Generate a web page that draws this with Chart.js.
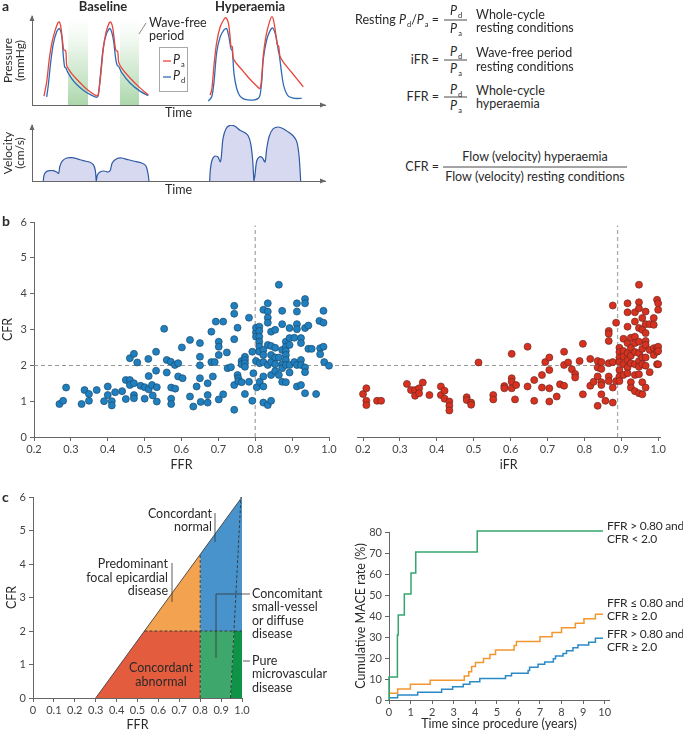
<!DOCTYPE html>
<html><head><meta charset="utf-8">
<script src="https://cdn.jsdelivr.net/npm/chart.js@4.4.1/dist/chart.umd.min.js"></script>
<style>
body{margin:0;background:#fff;}
#root{position:relative;width:683px;height:732px;overflow:hidden;font-family:Lato,"Open Sans",sans-serif;color:#2a2a2a;}
canvas{position:absolute;}
.t{position:absolute;white-space:nowrap;font-size:12.5px;line-height:14px;color:#2a2a2a;}
.s{font-size:7.5px;position:relative;top:3px;margin-left:1px;font-style:normal;}
svg{position:absolute;left:0;top:0;}
</style></head>
<body><div id="root"></div>
<script>
// ---------------- DATA ----------------
// Panel a: schematic traces (time units, pressure / velocity units)
const paBaseT = [12,14.7,17.3,20,23,26,27.3,28.7,30.7,31.7,33.3,34,34.7,36.3,39.7,44.7,51.3,58,64.7,66.3,68.7,71.3,74,77.3,78.7,80.7,83,84,85.7,86.7,89.7,98,108,116.3];
const paBaseP = [9,23.3,46.7,63.3,75,83.3,84,80,63.3,55.7,55.3,53.3,40,36.7,31.7,26,19.3,13.3,9.3,10.7,30,56.7,73.3,83.3,84,78.3,60,55,54.3,43.3,37.3,27.3,17.3,10];
const pdBaseT = [14.7,16.3,18.7,21.3,24.7,27.3,29.7,31.3,32.7,34,35.3,39.7,44.7,51.3,58,64.7,66.3,68.7,71.3,74.7,78,81.3,83.7,85.3,86.7,89.7,98,108,116.3];
const pdBaseP = [8.3,20,43.3,61.7,74,77.3,70,50,38.3,37.3,34,26.7,20.7,15,10.7,7.7,10,33.3,58.3,72.7,77.3,66.7,46.7,40,39,32.7,22.3,14,9.3];
const paHypT = [178,179.7,182.3,184.7,188,192,194,196.3,198,199,200.3,201.3,204.7,211.3,218,224.7,228,229.7,231.3,234,237.3,240,242,244,245.3,246.7,248,251.3,258,264.7,271.3];
const paHypP = [10,15,43.3,63.3,78.3,86.7,88.3,83.3,70,59.3,59,47.3,41.7,34,26,19.3,16.7,28.3,50,70,83.3,89.3,83.3,70,60.7,59.3,49.3,43.3,35,26.7,18.3];
const pdHypT = [176.3,179.7,182,184.7,188,192,194.7,197.3,199,200.3,202,204.7,208,213,221.3,226.3,228,229.7,231.3,234.7,238,240.7,244,246.3,247.3,249.7,252,256.3,263,269.7];
const pdHypP = [4,8.3,23.3,53.3,68.3,76,77.3,66.7,56.7,55,31.7,16.7,9,5.7,5,6.7,10,23.3,46.7,66,75,78,69.3,55,50.7,31.7,18.3,9,6.7,6.7];
const waveFree = [[36,56],[88,107]];
const velBaseT = [11.3,12,14,17.3,21.3,24.7,26.7,27.7,30,34.7,39.7,44.7,51.3,58,61.3,63.3,64.3,65.3,68,72,76,78.3,80.3,84.7,89.7,94.7,101.3,109.7,114,116,117];
const velBaseV = [0,5.7,9,10.3,10.3,9,7.7,14,19.7,23,23.3,22.3,20.3,18.7,16.3,10.7,0,5.7,9,10,9,10.7,18.3,22.3,23,21.7,20,18,15,7.3,0];
const velHypT = [177.7,178.3,180,182.7,186,188.3,189.3,191,194,198,203,208,213,216.3,218.7,220.7,222,223,224.7,227.3,230.3,233,234.7,237.3,241.3,246.3,251.3,256.3,261.3,264.7,267,268.7];
const velHypV = [0,10.7,20.7,24.7,24,19,24,42.3,52.3,55.7,54.7,50.7,48.3,45,37.3,20.7,0,6.3,20,24,23.3,19,32.3,45,52.3,54,52.3,49,45,39.7,25.7,0];

// Panel b: CFR versus FFR and iFR
const ffrCFR = [[0.269,0.92],[0.279,1.01],[0.287,1.38],[0.329,0.92],[0.337,1.31],[0.349,1.20],[0.349,1.01],[0.370,1.31],[0.390,1.00],[0.400,1.41],[0.400,1.17],[0.411,1.00],[0.411,0.88],[0.420,1.25],[0.439,1.28],[0.449,1.59],[0.449,1.06],[0.460,1.59],[0.460,2.20],[0.460,1.45],[0.471,2.32],[0.471,1.50],[0.471,1.17],[0.471,1.08],[0.480,2.08],[0.489,1.43],[0.500,1.07],[0.500,1.39],[0.510,2.18],[0.511,1.70],[0.511,1.33],[0.520,1.45],[0.522,1.16],[0.531,2.38],[0.531,1.85],[0.533,1.39],[0.533,0.99],[0.553,3.02],[0.560,2.15],[0.560,1.80],[0.571,2.10],[0.572,1.38],[0.572,1.07],[0.572,0.92],[0.582,2.01],[0.583,1.35],[0.591,2.06],[0.591,1.69],[0.601,2.50],[0.603,1.64],[0.623,2.71],[0.623,1.13],[0.632,0.85],[0.641,1.41],[0.650,2.62],[0.650,2.24],[0.650,2.00],[0.650,1.64],[0.652,0.98],
[0.671,1.50],[0.671,1.17],[0.671,0.96],[0.681,2.94],[0.681,2.09],[0.685,1.69],[0.690,2.09],[0.693,3.22],[0.701,2.66],[0.701,2.52],[0.701,2.29],[0.701,1.05],[0.713,3.22],[0.713,1.19],[0.723,2.36],[0.725,1.92],[0.734,1.95],[0.743,3.66],[0.743,3.44],[0.743,2.73],[0.743,1.45],[0.743,0.76],[0.752,3.05],[0.752,1.73],[0.754,1.64],[0.754,1.56],[0.763,2.12],[0.763,2.03],[0.763,1.53],[0.772,2.24],[0.772,2.15],[0.772,2.06],[0.772,1.96],[0.772,1.20],[0.783,3.33],[0.783,1.54],[0.792,2.38],[0.792,1.01],[0.795,1.78],[0.802,2.92],[0.802,3.05],[0.802,2.80],[0.802,2.12],[0.804,1.39],[0.811,3.08],[0.811,2.96],[0.811,2.80],[0.811,2.66],[0.811,2.52],[0.811,2.38],[0.812,2.06],[0.812,1.54],[0.822,3.55],[0.822,2.43],[0.822,2.29],[0.822,2.09],[0.822,1.69],[0.822,1.41],[0.822,0.96],[0.834,3.73],[0.834,3.50],[0.834,3.33],[0.834,3.19],[0.834,2.57],[0.834,2.01],[0.834,0.89],[0.843,2.94],[0.843,2.54],[0.843,2.29],[0.843,2.09],[0.843,1.73],[0.843,1.01],[0.854,2.99],[0.854,2.49],[0.854,2.22],[0.854,2.03],[0.854,1.84],[0.864,4.25],[0.864,2.22],[0.864,1.73],[0.873,3.52],[0.873,3.15],[0.873,2.43],[0.873,2.03],[0.873,1.92],[0.873,1.54],[0.883,2.66],[0.883,2.52],[0.883,2.40],[0.883,2.29],[0.883,2.15],[0.883,2.01],[0.883,1.53],[0.893,3.04],[0.893,2.76],[0.893,2.57],[0.893,2.01],[0.893,1.80],[0.906,2.77],[0.906,2.09],[0.913,3.73],[0.913,3.50],[0.913,3.15],[0.913,3.01],[0.913,2.01],[0.913,1.41],[0.924,2.76],[0.924,2.62],[0.924,2.15],[0.924,2.01],[0.924,1.45],[0.935,3.85],[0.935,3.73],[0.935,3.04],[0.935,1.94],[0.935,1.81],[0.935,1.22],[0.944,3.11],[0.944,2.46],[0.953,2.46],[0.965,1.20],[0.974,3.24],[0.976,2.48],[0.976,2.31],[0.985,3.52],[0.985,3.19],[0.985,2.52],[0.987,2.09],[1.0,1.99]];
const ifrCFR = [[0.200,1.20],[0.209,1.36],[0.209,1.01],[0.209,0.89],[0.238,1.01],[0.249,1.01],[0.319,1.48],[0.330,1.31],[0.341,1.31],[0.341,1.15],[0.352,1.36],[0.352,1.22],[0.362,1.52],[0.380,1.17],[0.411,1.41],[0.411,1.17],[0.421,1.29],[0.421,1.07],[0.434,0.99],[0.434,0.87],[0.434,0.74],[0.481,1.11],[0.481,1.03],[0.493,0.96],[0.493,0.90],[0.513,2.08],[0.553,1.17],[0.553,1.05],[0.583,1.42],[0.583,1.36],[0.603,2.32],[0.603,1.64],[0.603,1.54],[0.603,1.36],[0.612,1.05],[0.615,1.45],
[0.646,2.52],[0.646,1.41],[0.664,1.59],[0.664,1.01],[0.685,1.73],[0.685,1.38],[0.694,2.09],[0.705,2.22],[0.705,1.87],[0.705,1.36],[0.705,0.99],[0.725,1.13],[0.734,1.47],[0.745,1.43],[0.745,2.38],[0.745,2.01],[0.756,2.08],[0.766,1.89],[0.775,1.76],[0.775,1.66],[0.787,2.12],[0.796,2.60],[0.796,1.19],[0.816,2.18],[0.816,1.43],[0.825,1.54],[0.836,2.12],[0.836,1.94],[0.836,1.69],[0.836,0.87],[0.846,2.09],[0.846,1.90],[0.846,1.53],[0.846,1.45],[0.846,1.19],[0.857,1.01],[0.866,2.96],[0.866,2.88],[0.866,2.68],[0.866,2.06],[0.866,1.69],[0.866,1.56],[0.877,3.67],[0.877,2.09],[0.877,1.38],[0.877,0.96],[0.886,3.19],[0.886,1.56],[0.895,2.49],[0.895,2.37],[0.895,2.22],[0.895,2.09],[0.895,1.87],[0.895,1.69],[0.895,1.56],[0.906,2.74],[0.906,2.40],[0.906,2.24],[0.906,2.03],[0.906,1.73],[0.917,3.73],[0.917,3.48],[0.917,3.08],[0.917,2.62],[0.917,2.34],[0.917,2.15],[0.917,1.94],[0.917,1.78],[0.926,2.77],[0.926,2.49],[0.926,2.27],[0.926,2.06],[0.926,1.53],[0.926,1.38],[0.937,3.48],[0.937,3.22],[0.937,2.80],[0.937,2.62],[0.937,2.37],[0.937,2.03],[0.937,1.73],[0.937,1.28],[0.948,4.25],[0.948,3.76],[0.948,3.59],[0.948,3.04],[0.948,2.66],[0.948,2.34],[0.948,2.12],[0.948,1.96],[0.948,1.75],[0.948,1.22],[0.957,3.32],[0.957,2.99],[0.957,2.46],[0.957,2.22],[0.957,2.03],[0.957,1.53],[0.957,1.19],[0.966,3.50],[0.966,3.15],[0.966,2.90],[0.966,2.68],[0.966,2.57],[0.966,2.22],[0.966,1.99],[0.966,1.38],[0.977,3.15],[0.977,2.43],[0.977,1.81],[0.988,3.32],[0.988,3.13],[0.988,2.48],[0.988,2.29],[0.997,3.83],[0.997,2.49],[0.997,2.38],[0.997,2.03],[1.0,3.73],[1.0,3.55],[1.0,2.52],[1.0,2.40],[1.0,2.03]];
const ffrCut = 0.80, ifrCut = 0.89, cfrCut = 2.0, refTop = 5.9;
const bTicksX = [0.2,0.3,0.4,0.5,0.6,0.7,0.8,0.9,1.0];
const bTicksY = [0,1,2,3,4,5,6];

// Panel c left: classification triangle (FFR, CFR)
const triLine = [[0.3,0],[1.0,6]];
const regRed = [[0.3,0],[0.533,2],[0.8,2],[0.8,0]];
const regOrange = [[0.533,2],[0.8,4.29],[0.8,2]];
const regBlue = [[0.8,2],[0.8,4.29],[1.0,6],[1.0,2]];
const regGreen = [[0.8,0],[0.8,2],[0.962,2],[0.945,0]];
const regDarkGreen = [[0.945,0],[0.962,2],[1.0,2],[1.0,0]];
const cDashV = [[0.8,0],[0.8,4.29]];
const cDashH = [[0.533,2],[1.0,2]];
const cDashS = [[0.945,0],[0.995,6]];
const cTicksX = [0,0.1,0.2,0.3,0.4,0.5,0.6,0.7,0.8,0.9,1.0];
const cTicksY = [0,1,2,3,4,5,6];

// Panel c right: cumulative MACE (%) vs years
const kmLowCfrT = [0,0,0.39,0.43,0.71,1.02,1.24,4.09,9.92];
const kmLowCfrV = [0,11,31,40.5,50.5,60.5,70.5,80.5,80.5];
const kmLowFfrT = [0,0.40,0.99,1.91,3.49,3.70,3.83,4.01,4.38,4.68,4.94,5.80,5.91,7.00,7.56,8.00,8.64,9.04,9.57,9.92];
const kmLowFfrV = [3.2,5.2,7.5,9.4,11.4,13.5,15.9,17.8,19.8,21.7,23.8,25.9,27.9,30.1,32.2,34.4,36.5,38.7,40.8,40.8];
const kmNormT = [0,0.40,1.33,2.44,2.95,3.44,3.75,4.21,5.40,5.68,6.45,6.52,6.91,7.22,7.62,7.72,8.07,8.23,8.53,8.76,9.26,9.57,9.92];
const kmNormV = [1.1,2.4,3.7,5.1,6.3,7.5,8.7,10.2,11.6,12.7,14.1,15.6,17.0,18.1,19.6,21.0,22.2,23.5,24.9,26.2,27.5,29.4,29.4];
const kmTicksX = [0,1,2,3,4,5,6,7,8,9,10];
const kmTicksY = [0,10,20,30,40,50,60,70,80];

// ---------------- SETUP ----------------
const FONT = 'Lato, "Open Sans", sans-serif';
Chart.defaults.font.family = FONT;
Chart.defaults.color = '#444';
Chart.defaults.animation = false;
Chart.defaults.responsive = false;
Chart.defaults.devicePixelRatio = 1;
Chart.defaults.plugins.legend.display = false;
Chart.defaults.plugins.tooltip.enabled = false;

const root = document.getElementById('root');
function mkCanvas(l,t,w,h){const c=document.createElement('canvas');c.width=w;c.height=h;c.style.left=l+'px';c.style.top=t+'px';c.style.width=w+'px';c.style.height=h+'px';root.appendChild(c);return c;}
function txt(x,y,html,o={}){const d=document.createElement('div');d.className='t';d.innerHTML=html;const lh=o.lh||14;d.style.lineHeight=lh+'px';d.style.left=x+'px';d.style.top=(y-lh/2)+'px';if(o.size)d.style.fontSize=o.size+'px';if(o.ls!=null)d.style.letterSpacing=o.ls+'px';if(o.bold)d.style.fontWeight='bold';if(o.color)d.style.color=o.color;if(o.align==='right')d.style.transform='translateX(-100%)';if(o.align==='center')d.style.transform='translateX(-50%)';root.appendChild(d);return d;}
const pts = (xs, ys) => xs.map((x,i)=>({x, y: ys[i]}));
const pairs = a => a.map(p=>({x:p[0], y:p[1]}));
const setTicks = arr => s => { s.ticks = arr.map(v=>({value:v})); };
const axisCol = '#666';
function tickAxis(o){
  return Object.assign({type:'linear', min:o.min, max:o.max,
    afterBuildTicks:setTicks(o.ticks),
    afterFit: o.fit,
    ticks:{callback:o.fmt||(v=>v), font:{size:11}, color:'#444', padding:o.pad==null?2:o.pad, maxRotation:0, autoSkip:false},
    grid:{display:true, drawOnChartArea:false, drawTicks:true, tickLength:4, color:axisCol, lineWidth:1},
    border:{display:true, color:axisCol, width:1},
    title:{display:!!o.title, text:o.title, font:{size:12.5, lineHeight:1.2}, color:'#2a2a2a', padding:o.tpad||0}
  }, o.extra||{});
}
// arrowheads at axis ends for schematic panels
const arrows = {id:'arrows', afterDraw(chart){const {ctx, chartArea:a}=chart;ctx.save();ctx.fillStyle='#666';
  ctx.beginPath();ctx.moveTo(a.right+1,a.bottom);ctx.lineTo(a.right-5,a.bottom-2.5);ctx.lineTo(a.right-5,a.bottom+2.5);ctx.closePath();ctx.fill();
  ctx.beginPath();ctx.moveTo(a.left,a.top-1);ctx.lineTo(a.left-2.5,a.top+5);ctx.lineTo(a.left+2.5,a.top+5);ctx.closePath();ctx.fill();ctx.restore();}};
function schemAxes(xmax, ymax, ytitle, xh){
  return {
    x:{type:'linear',min:0,max:xmax,afterFit:s=>{s.height=xh;},ticks:{display:false},grid:{display:false},border:{display:true,color:'#666'},title:{display:true,text:'Time',font:{size:12.5,lineHeight:1.2},color:'#2a2a2a',padding:0}},
    y:{type:'linear',min:0,max:ymax,afterFit:s=>{s.width=32;},ticks:{display:false},grid:{display:false},border:{display:true,color:'#666'},title:{display:true,text:ytitle,font:{size:12,lineHeight:1.0},color:'#2a2a2a',padding:{top:2,bottom:0}}}
  };
}

// ---------------- PANEL a: pressure ----------------
{
  const c = mkCanvas(0,8,335,112);
  const bandGrad = (ctx)=>{const ch=ctx.chart;const a=ch.chartArea;if(!a)return 'rgba(120,190,120,0.4)';const g=ch.ctx.createLinearGradient(0,a.bottom,0,a.top);g.addColorStop(0,'rgba(120,190,120,0.62)');g.addColorStop(0.5,'rgba(160,210,160,0.38)');g.addColorStop(1,'rgba(210,235,210,0.0)');return g;};
  const ds = [];
  waveFree.forEach(b=>ds.push({data:[{x:b[0],y:90},{x:b[1],y:90}],fill:'origin',backgroundColor:bandGrad,borderWidth:0,pointRadius:0,order:5}));
  const line=(t,p,col)=>({data:pts(t,p),borderColor:col,borderWidth:1.3,pointRadius:0,tension:0.3,fill:false,order:1});
  ds.push(line(paBaseT,paBaseP,'#e8463c'),line(paHypT,paHypP,'#e8463c'),line(pdBaseT,pdBaseP,'#2f6cb3'),line(pdHypT,pdHypP,'#2f6cb3'));
  new Chart(c,{type:'line',data:{datasets:ds},options:{layout:{padding:{top:8,right:10,left:0,bottom:0}},scales:schemAxes(293,90,['Pressure','(mmHg)'],15)},plugins:[arrows]});
}
// ---------------- PANEL a: velocity ----------------
{
  const c = mkCanvas(0,118,335,79);
  const area=(t,v)=>({data:pts(t,v),borderColor:'#2f5aa3',borderWidth:1.2,backgroundColor:'#d6d9ef',fill:'origin',pointRadius:0,tension:0.3});
  new Chart(c,{type:'line',data:{datasets:[area(velBaseT,velBaseV),area(velHypT,velHypV)]},options:{layout:{padding:{top:7,right:10,left:0,bottom:0}},scales:schemAxes(293,56,['Velocity','(cm/s)'],16)},plugins:[arrows]});
}

// ---------------- PANEL b ----------------
const hLine = (fromFn, toFn) => ({id:'hline', beforeDatasetsDraw(chart){const {ctx,scales:{y}}=chart;const yy=Math.round(y.getPixelForValue(cfrCut))+0.5;ctx.save();ctx.strokeStyle='#999';ctx.lineWidth=1;ctx.setLineDash([4,3]);ctx.beginPath();ctx.moveTo(fromFn(chart),yy);ctx.lineTo(toFn(chart),yy);ctx.stroke();ctx.restore();}});
const vDash = (cut)=>({data:[{x:cut,y:0},{x:cut,y:refTop}],borderColor:'#aaa',borderWidth:1.3,borderDash:[4,3],pointRadius:0,fill:false,order:3});
const fmt1 = v=>Number(v).toFixed(1);
{
  const c = mkCanvas(0,212,345,260);
  new Chart(c,{type:'line',data:{datasets:[
    {data:pairs(ffrCFR),showLine:false,pointRadius:3.5,pointBackgroundColor:'#1f7fbf',pointBorderColor:'#1b4d70',pointBorderWidth:0.7,order:1,clip:false},
    vDash(ffrCut)
  ]},options:{layout:{padding:{top:10,right:16,left:0,bottom:0}},scales:{
    x:tickAxis({min:0.2,max:1.0,ticks:bTicksX,fmt:fmt1,fit:s=>{s.height=35;},title:'FFR'}),
    y:tickAxis({min:0,max:6,ticks:bTicksY,fit:s=>{s.width=34;},title:'CFR',pad:3})
  }},plugins:[hLine(ch=>ch.chartArea.left, ch=>ch.width)]});
}
{
  const c = mkCanvas(345,212,338,260);
  new Chart(c,{type:'line',data:{datasets:[
    {data:pairs(ifrCFR),showLine:false,pointRadius:3.5,pointBackgroundColor:'#d8311f',pointBorderColor:'#6e2a22',pointBorderWidth:0.7,order:1,clip:false},
    vDash(ifrCut)
  ]},options:{layout:{padding:{top:10,right:23,left:12.5,bottom:0}},scales:{
    x:tickAxis({min:0.185,max:1.005,ticks:bTicksX,fmt:fmt1,fit:s=>{s.height=35;},title:'iFR'}),
    y:{type:'linear',min:0,max:6,display:false}
  }},plugins:[hLine(ch=>0, ch=>ch.scales.x.getPixelForValue(ifrCut))]});
}

// ---------------- PANEL c left ----------------
{
  const c = mkCanvas(0,487,345,245);
  const poly=(arr,col)=>({data:pairs(arr),borderWidth:0,borderColor:col,backgroundColor:col,fill:'shape',pointRadius:0,tension:0,order:5});
  const dash=(arr)=>({data:pairs(arr),borderColor:'#333',borderWidth:0.9,borderDash:[3,2],fill:false,pointRadius:0,order:2});
  new Chart(c,{type:'line',data:{datasets:[
    poly(regRed,'#e35c3d'),poly(regOrange,'#f3a24f'),poly(regBlue,'#4993cc'),poly(regGreen,'#3ea86c'),poly(regDarkGreen,'#0f9447'),
    dash(cDashV),dash(cDashH),dash(cDashS),
    {data:pairs(triLine),borderColor:'#444',borderWidth:0.9,fill:false,pointRadius:0,order:1}
  ]},options:{layout:{padding:{top:10,right:103,left:0,bottom:0}},scales:{
    x:tickAxis({min:0,max:1.0,ticks:cTicksX,fmt:v=>v===0?'0':fmt1(v),fit:s=>{s.height=34;},title:'FFR'}),
    y:tickAxis({min:0,max:6,ticks:cTicksY,fit:s=>{s.width=33;},title:'CFR',tpad:4,pad:3})
  }}});
}
// ---------------- PANEL c right ----------------
{
  const c = mkCanvas(345,510,338,222);
  const km=(t,v,col)=>({data:pts(t,v),stepped:'before',borderColor:col,borderWidth:1.5,pointRadius:0,fill:false,clip:false});
  new Chart(c,{type:'line',data:{datasets:[
    km(kmLowCfrT,kmLowCfrV,'#36a56d'),km(kmLowFfrT,kmLowFfrV,'#f2962f'),km(kmNormT,kmNormV,'#2b8ac6')
  ]},options:{layout:{padding:{top:22,right:74,left:0,bottom:0}},scales:{
    x:tickAxis({min:0,max:10.2,ticks:kmTicksX,fit:s=>{s.height=32;},title:'Time since procedure (years)',tpad:{top:0,bottom:1}}),
    y:tickAxis({min:0,max:80,ticks:kmTicksY,fit:s=>{s.width=44;},title:'Cumulative MACE rate (%)',tpad:{top:8,bottom:0},pad:3})
  }}});
}

// ---------------- TEXT ----------------
txt(2,6,'a',{bold:true,size:14});
txt(2,221,'b',{bold:true,size:14});
txt(2,497,'c',{bold:true,size:14});
txt(103,6,'Baseline',{bold:true,align:'center',size:13});
txt(250,6,'Hyperaemia',{bold:true,align:'center',size:13});
txt(149,23,'Wave-free');
txt(149,36,'period');
// legend box
const lg=document.createElement('div');lg.style.cssText='position:absolute;left:159px;top:47px;width:27px;height:43px;border:1px solid #a8a8a8;background:#fff;';root.appendChild(lg);
txt(173,60,'<i>P</i><span class="s">a</span>');
txt(173,76,'<i>P</i><span class="s">d</span>');
const P = s=>'<i>P</i><span class="s">'+s+'</span>';
// equations
txt(439,20,'Resting '+P('d')+'/'+P('a')+' =',{align:'right'});
txt(456,11,P('d'),{align:'center'});txt(456,29,P('a'),{align:'center'});
txt(476,15,'Whole-cycle');txt(476,28,'resting conditions');
txt(439,60,'iFR =',{align:'right'});
txt(456,52,P('d'),{align:'center'});txt(456,69,P('a'),{align:'center'});
txt(476,53,'Wave-free period');txt(476,67,'resting conditions');
txt(439,97,'FFR =',{align:'right'});
txt(456,90,P('d'),{align:'center'});txt(456,106,P('a'),{align:'center'});
txt(476,91,'Whole-cycle');txt(476,104,'hyperaemia');
txt(439,167,'CFR =',{align:'right'});
txt(535,157,'Flow (velocity) hyperaemia',{align:'center'});
txt(535,177,'Flow (velocity) resting conditions',{align:'center'});
// panel c annotations
txt(212,514,'Concordant',{align:'right'});txt(212,527,'normal',{align:'right'});
txt(168,564,'Predominant',{align:'right'});txt(168,578,'focal epicardial',{align:'right'});txt(168,591,'disease',{align:'right'});
txt(252,594,'Concomitant');txt(252,607,'small-vessel');txt(252,621,'or diffuse');txt(252,634,'disease');
txt(252,661,'Pure');txt(252,674,'microvascular');txt(252,688,'disease');
txt(161,668,'Concordant',{align:'center'});txt(161,682,'abnormal',{align:'center'});
// KM labels
const kmL={size:12,ls:-0.25};
txt(607,526,'FFR &gt; 0.80 and',kmL);txt(607,539,'CFR &lt; 2.0',kmL);
txt(607,603,'FFR ≤ 0.80 and',kmL);txt(607,616,'CFR ≥ 2.0',kmL);
txt(607,634,'FFR &gt; 0.80 and',kmL);txt(607,647,'CFR ≥ 2.0',kmL);

// leader lines, fraction bars, legend swatches
const svgNS='http://www.w3.org/2000/svg';
const svg=document.createElementNS(svgNS,'svg');svg.setAttribute('width',683);svg.setAttribute('height',732);root.appendChild(svg);
function ln(x1,y1,x2,y2,col,w){const l=document.createElementNS(svgNS,'line');l.setAttribute('x1',x1);l.setAttribute('y1',y1);l.setAttribute('x2',x2);l.setAttribute('y2',y2);l.setAttribute('stroke',col||'#333');l.setAttribute('stroke-width',w||0.9);svg.appendChild(l);}
ln(139,34,146,23,'#777',0.9);
ln(163,61,171,61,'#e8463c',1.3);ln(163,77,171,77,'#2f6cb3',1.3);
ln(444,20,467,20);ln(444,60,467,60);ln(444,97,467,97);ln(443,167,627,167);
ln(215,513,215,542,'#333',0.8);
ln(172,563,172,602,'#333',0.8);
ln(216,594,250,594,'#333',0.8);ln(216,594,216,658,'#333',0.8);
ln(243,661,250,661,'#333',0.8);
</script>
</body></html>
